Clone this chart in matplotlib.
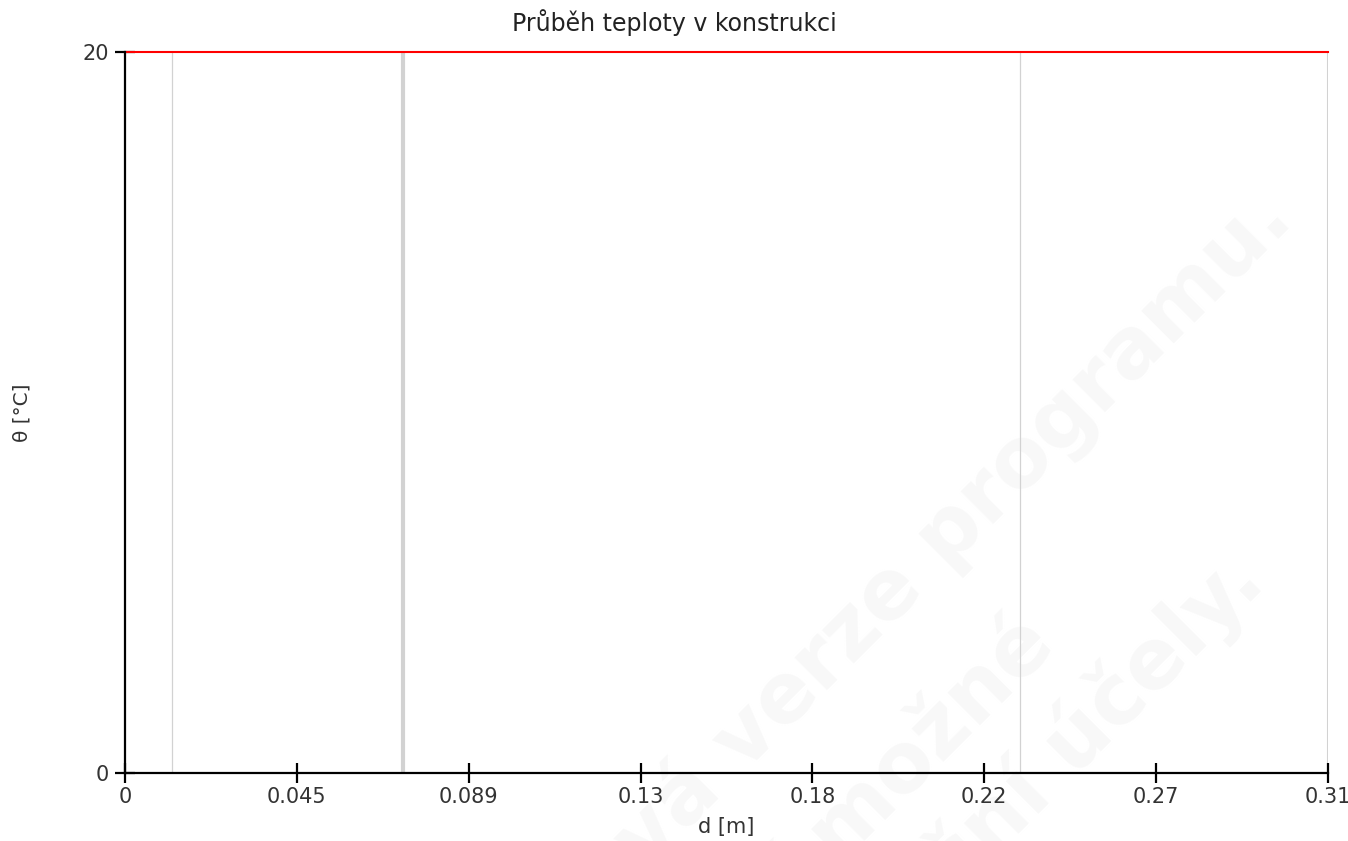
import matplotlib
matplotlib.use("Agg")
import matplotlib.pyplot as plt

# data
d_total = 0.312
layer_bounds = [0.0122, 0.0721, 0.2321, 0.312]
layer_widths = [0.9, 3.0, 0.9, 1.5]
temp_x = [0, 0.312]
temp_y = [20, 20]
x_ticks = [d_total * i / 7 for i in range(8)]
x_labels = ["0", "0.045", "0.089", "0.13", "0.18", "0.22", "0.27", "0.31"]
y_ticks = [0, 20]
y_labels = ["0", "20"]
watermark = ["Výuková verze programu.", "Použití možné", "pouze pro nekomerční účely."]

W, H = 1348, 841
fig = plt.figure(figsize=(W / 100, H / 100), dpi=100)
ax = fig.add_axes([125 / W, 1 - 773 / H, 1203 / W, 721 / H])
ax.patch.set_alpha(0)

# faint watermark, each line anchored at its right end
wm_ends = [(1295, 222), (1058, 648), (1268, 585)]
for txt, (px, py) in zip(watermark, wm_ends):
    ax.text(px / W, 1 - py / H, txt, transform=fig.transFigure,
            fontsize=60, fontweight="bold", color="#f8f8f8", rotation=45,
            rotation_mode="anchor", ha="right", va="baseline",
            zorder=0, clip_on=False)

for xb, lw in zip(layer_bounds, layer_widths):
    ax.axvline(xb, color="#d2d2d2", lw=lw, zorder=1)

ax.plot(temp_x, temp_y, color="#ff0000", lw=1.5, zorder=2, clip_on=False)

ax.set_xlim(0, d_total)
ax.set_ylim(0, 20)
ax.set_xticks(x_ticks)
ax.set_xticklabels(x_labels)
ax.set_yticks(y_ticks)
ax.set_yticklabels(y_labels)

for s in ["top", "right"]:
    ax.spines[s].set_visible(False)
for s in ["left", "bottom"]:
    ax.spines[s].set_linewidth(1.6)
    ax.spines[s].set_color("black")
    ax.spines[s].set_zorder(4)

ax.tick_params(axis="x", direction="inout", length=14, width=1.6, labelsize=15,
               labelcolor="#333333", pad=3)
ax.tick_params(axis="y", direction="inout", length=14, width=1.6, labelsize=15,
               labelcolor="#333333", pad=4.5)

ax.set_xlabel("d [m]", fontsize=15, color="#333333", labelpad=7)
ax.set_ylabel("θ [°C]", fontsize=14.5, color="#333333")
ax.yaxis.set_label_coords(-0.078, 0.5)

fig.text(0.5, 1 - 23 / H, "Průběh teploty v konstrukci", fontsize=17,
         color="#222222", ha="center", va="center")

fig.savefig("out.png", dpi=100)
